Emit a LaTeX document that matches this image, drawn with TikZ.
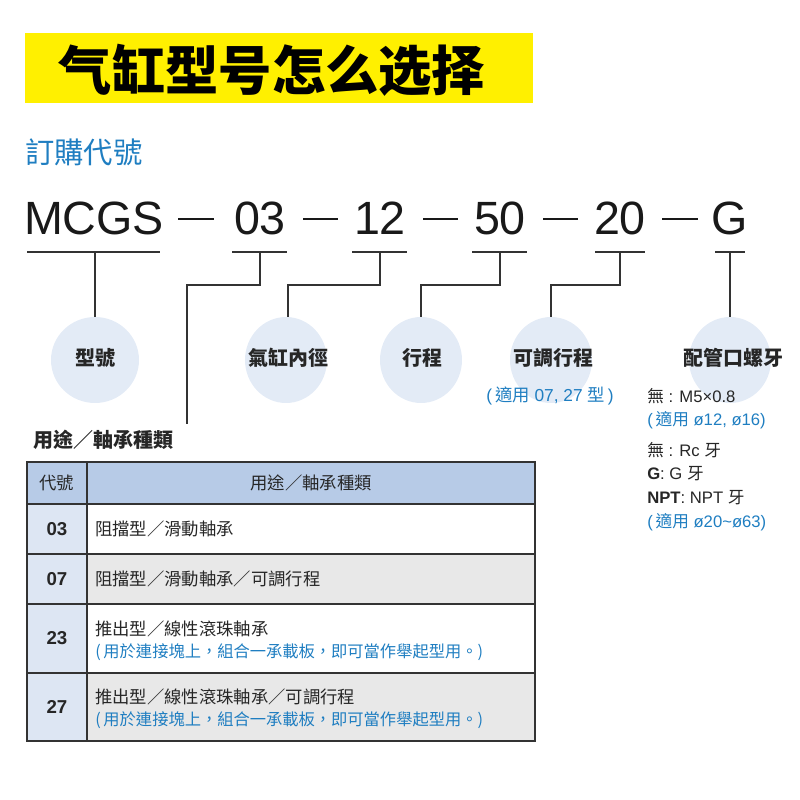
\documentclass[tikz,border=0pt]{standalone}
\usepackage{fontspec}
\setmainfont{Liberation Sans}
\newfontfamily\cjk{Noto Sans CJK TC}
\definecolor{ttl}{HTML}{1F7EC1}
\definecolor{bub}{HTML}{E3EBF6}
\definecolor{hdr}{HTML}{B7CBE7}
\definecolor{codec}{HTML}{DDE6F3}
\definecolor{grayrow}{HTML}{E8E8E8}
\definecolor{bord}{HTML}{333333}
\definecolor{ban}{HTML}{FFF000}
\begin{document}
\begin{tikzpicture}[x=0.75pt,y=-0.75pt,
  lbl/.style={font=\cjk\bfseries\fontsize{15}{18}\selectfont,text=black!85},
  big/.style={font=\fontsize{35}{40}\selectfont,text=black!90,inner sep=0},
  sepline/.style={draw=black!90,line width=1.6pt},
  conn/.style={draw=black!80,line width=0.9pt},
  ul/.style={draw=black!80,line width=1.2pt},
  note/.style={anchor=west,font=\fontsize{12.5}{15}\selectfont,text=black!85,inner sep=0},
  cell/.style={draw=bord,line width=1.2pt},
  ctext/.style={anchor=west,font=\cjk\fontsize{13}{15}\selectfont,text=black!85,inner sep=0},
  code/.style={font=\bfseries\fontsize{14}{16}\selectfont,text=black!85}]
\useasboundingbox (0,0) rectangle (800,800);
% banner
\fill[ban] (25,33) rectangle (533,103);
\node (title) at (272,70) {\cjk\bfseries\fontsize{40}{44}\selectfont 气缸型号怎么选择};
\node[anchor=west,inner sep=0,text=ttl] (order) at (25,152) {\cjk\fontsize{22}{26}\selectfont 訂購代號};
% code line
\node[big] (p1) at (94,218) {MCGS};
\node[big] (p2) at (260,218) {03};
\node[big] (p3) at (380,218) {12};
\node[big] (p4) at (500,218) {50};
\node[big] (p5) at (620,218) {20};
\node[big] (p6) at (730,218) {G};
\foreach \xa/\xb in {178/214, 303/338, 423/458, 543/578, 662/698} \draw[sepline] (\xa,219) -- (\xb,219);
\draw[ul] (27,252) -- (160,252);
\draw[ul] (232,252) -- (287,252);
\draw[ul] (352,252) -- (407,252);
\draw[ul] (472,252) -- (527,252);
\draw[ul] (595,252) -- (645,252);
\draw[ul] (715,252) -- (745,252);
% bubbles
\fill[bub] (95,360) ellipse (44 and 43);
\fill[bub] (286,360) ellipse (41 and 43);
\fill[bub] (421,360) ellipse (41 and 43);
\fill[bub] (551,360) ellipse (41 and 43);
\fill[bub] (730,360) ellipse (41 and 43);
\coordinate (b1) at (95,317);
\coordinate (b2) at (288,317);
\coordinate (b3) at (421,317);
\coordinate (b4) at (551,317);
\coordinate (b5) at (730,317);
\node[lbl] (l1) at (95,358) {型號};
\node[lbl] (l2) at (288,358) {氣缸內徑};
\node[lbl] (l3) at (422,358) {行程};
\node[lbl] (l4) at (553,358) {可調行程};
\node[lbl] (l5) at (733,358) {配管口螺牙};
% connectors
\coordinate (u1) at (95,252);
\coordinate (u2) at (260,252);
\coordinate (u3) at (380,252);
\coordinate (u4) at (500,252);
\coordinate (u5) at (620,252);
\coordinate (u6) at (730,252);
\coordinate (t0) at (187,424);
\draw[conn] (u1) -- (b1);
\draw[conn] (u2) |- (187,285) -- (t0);
\draw[conn] (u3) |- (288,285) -- (b2);
\draw[conn] (u4) |- (421,285) -- (b3);
\draw[conn] (u5) |- (551,285) -- (b4);
\draw[conn] (u6) -- (b5);
% notes
\node[text=ttl,font=\fontsize{13}{15}\selectfont] (n0) at (550,396) {(\,{\cjk 適用} 07, 27 {\cjk 型}\,)};
\node[note] (n1) at (647,396) {{\cjk 無} : M5×0.8};
\node[note,text=ttl] (n2) at (647,420) {(\,{\cjk 適用} ø12, ø16)};
\node[note] (n3) at (647,450) {{\cjk 無} : Rc {\cjk 牙}};
\node[note] (n4) at (647,474) {\textbf{G}: G {\cjk 牙}};
\node[note] (n5) at (647,498) {\textbf{NPT}: NPT {\cjk 牙}};
\node[note,text=ttl] (n6) at (647,522) {(\,{\cjk 適用} ø20\textasciitilde ø63)};
% table
\node[anchor=west,inner sep=0,font=\cjk\bfseries\fontsize{15}{18}\selectfont,text=black!85] (ttitle) at (33,440) {用途／軸承種類};
\fill[hdr] (27,462) rectangle (535,504);
\fill[grayrow] (87,554) rectangle (535,604);
\fill[grayrow] (87,673) rectangle (535,741);
\fill[codec] (27,504) rectangle (87,741);
\draw[cell] (27,462) rectangle (535,741);
\foreach \yy in {504,554,604,673} \draw[cell] (27,\yy) -- (535,\yy);
\draw[cell] (87,462) -- (87,741);
\node[font=\cjk\fontsize{13}{15}\selectfont,text=black!85] (h1) at (57,483) {代號};
\node[font=\cjk\fontsize{13}{15}\selectfont,text=black!85] (h2) at (311,483) {用途／軸承種類};
\node[code] (c1) at (57,529) {03};
\node[code] (c2) at (57,579) {07};
\node[code] (c3) at (57,638) {23};
\node[code] (c4) at (57,707) {27};
\node[ctext] (d1) at (95,529) {阻擋型／滑動軸承};
\node[ctext] (d2) at (95,579) {阻擋型／滑動軸承／可調行程};
\node[ctext] (d3) at (95,629) {推出型／線性滾珠軸承};
\node[ctext,text=ttl,font=\cjk\fontsize{12.2}{14}\selectfont] (e3) at (95,652) {(\,用於連接塊上，組合一承載板，即可當作舉起型用。)};
\node[ctext] (d4) at (95,697) {推出型／線性滾珠軸承／可調行程};
\node[ctext,text=ttl,font=\cjk\fontsize{12.2}{14}\selectfont] (e4) at (95,720) {(\,用於連接塊上，組合一承載板，即可當作舉起型用。)};
\end{tikzpicture}
\end{document}
